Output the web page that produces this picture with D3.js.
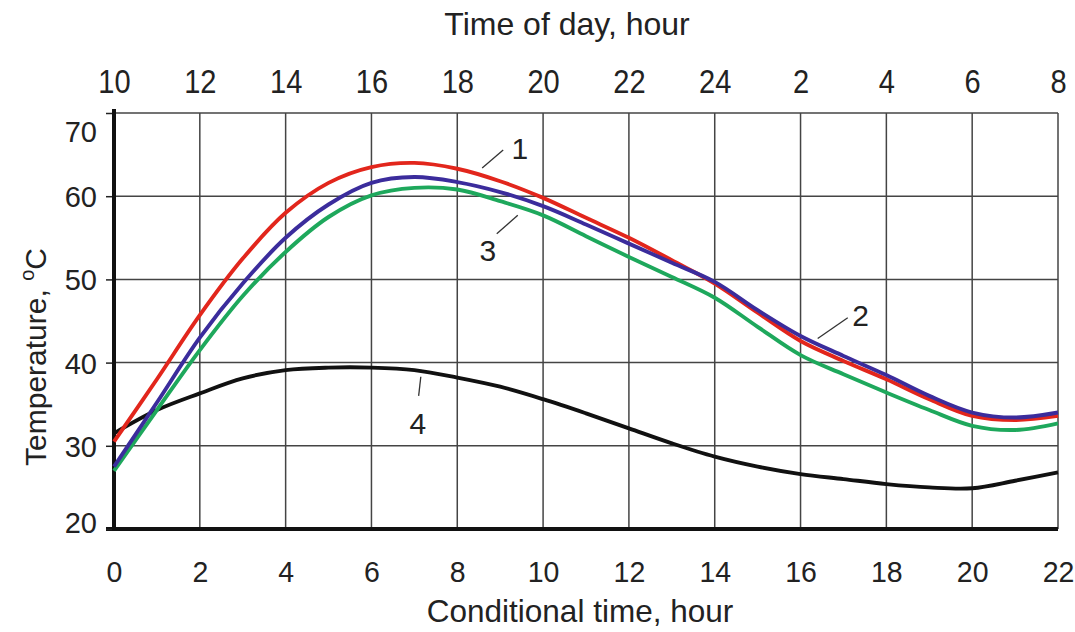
<!DOCTYPE html>
<html><head><meta charset="utf-8">
<script src="https://cdn.jsdelivr.net/npm/d3@7"></script>
<style>body{margin:0;background:#fff}svg{display:block}text{font-family:"Liberation Sans",Arial,sans-serif;fill:#222}</style>
</head><body><svg id="c" width="1075" height="632"></svg>
<script>
const hours = [0,1,2,3,4,5,6,7,8,9,10,11,12,13,14,15,16,17,18,19,20,21,22];
const curve1 = [30.5,38,45.7,52.5,58,61.6,63.5,64,63.3,61.8,59.8,57.4,55,52.3,49.5,46,42.6,40.2,38,35.6,33.6,33.1,33.6];
const curve2 = [27.5,35.2,43,49.5,55,59,61.6,62.3,61.7,60.5,58.8,56.6,54.3,52,49.7,46.3,43.2,40.8,38.5,36,34,33.4,34];
const curve3 = [27,34.3,41.5,48,53.3,57.5,60.1,61,60.8,59.4,57.7,55.2,52.7,50.3,47.8,44.3,40.9,38.6,36.4,34.3,32.4,31.9,32.7];
const curve4 = [31.5,34.3,36.3,38.1,39.1,39.4,39.4,39.1,38.2,37.1,35.6,33.9,32.1,30.3,28.7,27.5,26.6,26,25.4,25,24.9,25.8,26.8];
const bottomTicks = [0,2,4,6,8,10,12,14,16,18,20,22];
const topTickLabels = ["10","12","14","16","18","20","22","24","2","4","6","8"];
const yTicks = [20,30,40,50,60,70];
const labelNames = ["1","2","3","4"];
const labelText = [[9.46,65.8],[17.4,45.7],[8.71,53.5],[7.08,32.7]];
const labelLead = [[[8.58,63.4],[9.07,65.55]],[[16.4,42.9],[17.1,45.4]],[[8.92,55.5],[9.41,57.7]],[[7.15,38.3],[7.1,36.0]]];
const colors = {c1:"#e2261c",c2:"#3b2c9c",c3:"#1ea85c",c4:"#111"};

const svg = d3.select("#c");
const x = d3.scaleLinear().domain([0,22]).range([114,1058]);
const y = d3.scaleLinear().domain([20,70]).range([529,113]);
const FONT = "Liberation Sans, Arial, sans-serif";

// grid
svg.append("g").selectAll("line").data(bottomTicks.slice(1)).join("line")
  .attr("x1",d=>x(d)).attr("x2",d=>x(d)).attr("y1",y(70)).attr("y2",y(20))
  .attr("stroke","#444").attr("stroke-width",1.5);
svg.append("g").selectAll("line").data(yTicks.slice(1)).join("line")
  .attr("x1",x(0)).attr("x2",x(22)).attr("y1",d=>y(d)).attr("y2",d=>y(d))
  .attr("stroke","#444").attr("stroke-width",1.5);

// bottom axis
const xb = svg.append("g").attr("transform",`translate(0,${y(20)})`)
  .call(d3.axisBottom(x).tickValues(bottomTicks).tickSize(0).tickPadding(0).tickFormat(d3.format("d")));
xb.select(".domain").remove();
xb.selectAll("text").attr("y",53).attr("dy",0).attr("font-size",30).attr("fill","#222").style("font-family",FONT)
  .attr("transform","scale(0.95,1)");
svg.append("line").attr("x1",x(0)-8).attr("x2",x(22)).attr("y1",y(20)).attr("y2",y(20)).attr("stroke","#111").attr("stroke-width",4);

// top axis
const xt = svg.append("g").attr("transform",`translate(0,${y(70)})`)
  .call(d3.axisTop(x).tickValues(bottomTicks).tickSize(0).tickPadding(0).tickFormat((d,i)=>topTickLabels[i]));
xt.select(".domain").remove();
xt.selectAll("text").attr("y",-20).attr("dy",0).attr("font-size",33).attr("fill","#222").style("font-family",FONT)
  .attr("transform","scale(0.88,1)");

// left axis
const yl = svg.append("g").attr("transform",`translate(${x(0)},0)`)
  .call(d3.axisLeft(y).tickValues(yTicks).tickSize(8).tickPadding(9));
yl.select(".domain").remove();
yl.selectAll("line").attr("stroke","#222").attr("stroke-width",1.5);
yl.selectAll("text").attr("font-size",29).attr("fill","#222").style("font-family",FONT)
  .attr("dy",d=>d===70?"0.98em":(d===20?"0.12em":"0.36em"));
svg.append("line").attr("x1",x(0)).attr("x2",x(0)).attr("y1",y(70)-4).attr("y2",y(20)+2).attr("stroke","#111").attr("stroke-width",4);

// titles
svg.append("text").attr("x",567).attr("y",35).attr("text-anchor","middle").attr("font-size",32).text("Time of day, hour");
svg.append("text").attr("x",580).attr("y",622).attr("text-anchor","middle").attr("font-size",31.5).text("Conditional time, hour");
const yt = svg.append("text").attr("transform","translate(46,357) rotate(-90)").attr("text-anchor","middle").attr("font-size",30);
yt.append("tspan").text("Temperature, ");
yt.append("tspan").attr("font-size",20).attr("dy",-12).text("o");
yt.append("tspan").attr("dy",12).text("C");

// curves
const line = d3.line().x((d,i)=>x(hours[i])).y(d=>y(d)).curve(d3.curveCatmullRom.alpha(0.5));
[[curve4,colors.c4],[curve3,colors.c3],[curve1,colors.c1],[curve2,colors.c2]].forEach(([data,col])=>{
  svg.append("path").attr("d",line(data)).attr("fill","none").attr("stroke",col).attr("stroke-width",3.9);
});

// labels
labelLead.forEach(l=>{
  svg.append("line").attr("x1",x(l[0][0])).attr("y1",y(l[0][1])).attr("x2",x(l[1][0])).attr("y2",y(l[1][1]))
    .attr("stroke","#333").attr("stroke-width",1.3);
});
labelText.forEach((p,i)=>{
  svg.append("text").attr("x",x(p[0])).attr("y",y(p[1])).attr("dy","0.36em").attr("text-anchor","middle")
    .attr("font-size",30).text(labelNames[i]);
});
</script></body></html>
